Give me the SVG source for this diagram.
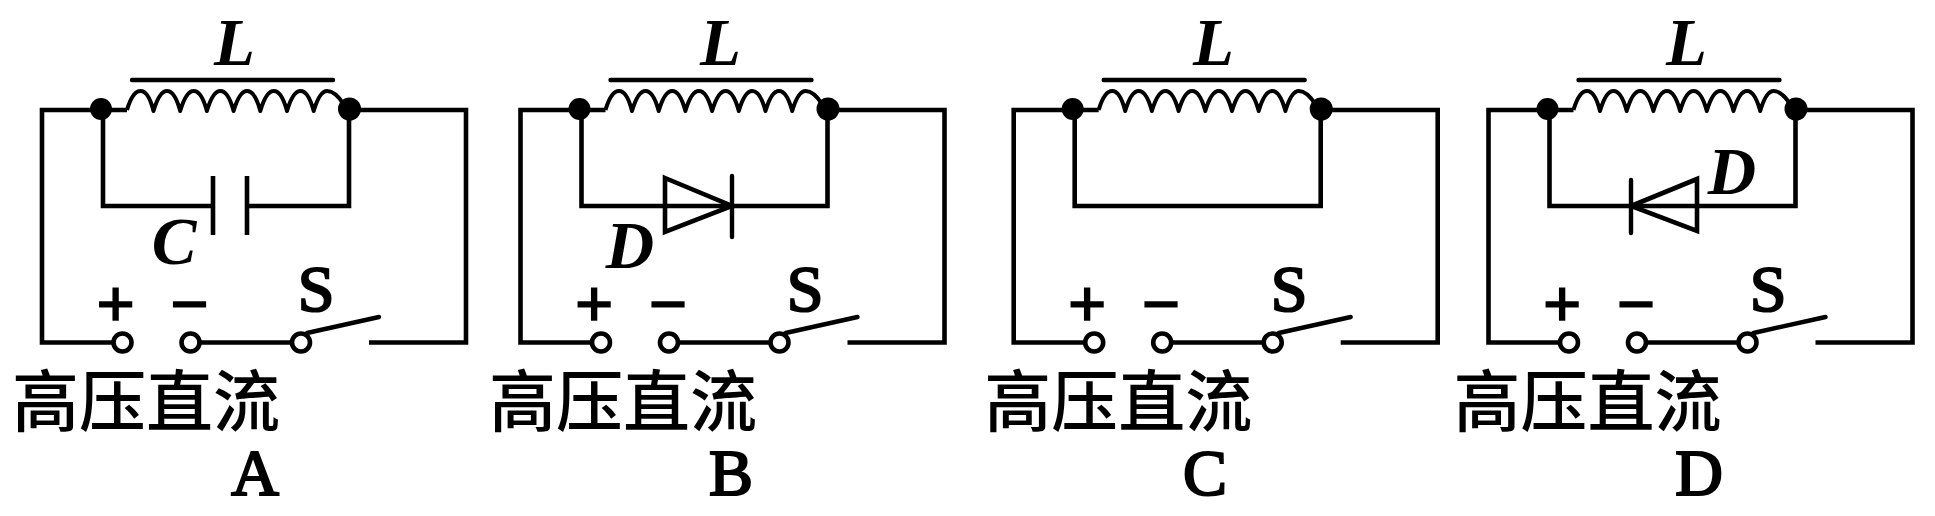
<svg xmlns="http://www.w3.org/2000/svg" width="1935" height="516" viewBox="0 0 1935 516">
<style>
.w{fill:none;stroke:#000;stroke-width:4.600;stroke-linejoin:miter}
.c{fill:none;stroke:#000;stroke-width:4;stroke-linejoin:round}
.b{fill:none;stroke:#000;stroke-width:4.400;stroke-linecap:round}
.t{fill:#fff;stroke:#000;stroke-width:4.600}
.d{fill:#000}
text{fill:#000;font-family:"Liberation Serif","Noto Sans CJK SC",serif;text-anchor:middle}
.v{font-size:67px;font-weight:bold;font-style:italic}
.r{font-size:66px;stroke:#000;stroke-width:2.200}
.s{font-size:68px;font-weight:bold;stroke:#000;stroke-width:1.600}
.z{font-family:"Noto Sans CJK SC",sans-serif;font-size:67px;font-weight:500;text-anchor:start}
</style>
<defs>
<path id="wire-outer" d="M127 110H42V342.500H122M350 110H466V342.500H369M190 342.500H301"/>
<path id="coil-shape" d="M127 110c3.500-12 8-19 13.500-19c6 0 10 8 13 20c3.500-12 8-20 13.500-20c6 0 10 8 13.200 20c3.500-12 8-20 13.500-20c6 0 10 8 13.200 20c3.500-12 8-20 13.500-20c6 0 10 8 13.200 20c3.500-12 8-20 13.500-20c6 0 10 8 13.200 20c3.500-12 8-20 13.500-20c6 0 10 8 13.200 20c3.500-12 8-20 13.500-20c6 0 10 8 13.200 20c3.500-12 8-20 13.500-20c6 0 12 6 17 14"/>
</defs>
<g id="connectors">
<use href="#wire-outer" class="w"/>
<path class="w" d="M103 110V206H213M247 206H349V110"/>
<use href="#wire-outer" class="w" transform="translate(478.500 0)"/>
<path class="w" d="M581.500 110V206H827.500V110"/>
<use href="#wire-outer" class="w" transform="translate(971.700 0)"/>
<path class="w" d="M1074.700 110V206H1320.700V110"/>
<use href="#wire-outer" class="w" transform="translate(1446.500 0)"/>
<path class="w" d="M1549.500 110V206H1795.500V110"/>
</g>
<g id="panel-a">
<g id="inductor-a"><use href="#coil-shape" class="c"/><path class="b" d="M132 80H333"/><text class="v" x="234.500" y="65">L</text></g>
<g id="junctions-a"><circle class="d" cx="101" cy="109" r="11"/><circle class="d" cx="349.500" cy="109" r="11.500"/></g>
<g id="capacitor-a"><path class="w" d="M213 176V235M247 176V235"/><text class="v" x="174" y="264">C</text></g>
<g id="source-a"><circle class="t" cx="122.500" cy="342.500" r="9"/><circle class="t" cx="190.500" cy="342.500" r="9"/><text class="s" x="115.500" y="327">+</text><text class="s" x="189.500" y="327">−</text><text class="z" x="12" y="426">高压直流</text></g>
<g id="switch-a"><path class="b" d="M307 333L379 317"/><circle class="t" cx="301" cy="342.500" r="9"/><text class="r" x="316" y="311">S</text></g>
<text id="label-a" class="r" x="255" y="495">A</text>
</g>
<g id="panel-b">
<g id="inductor-b" transform="translate(478.500 0)"><use href="#coil-shape" class="c"/><path class="b" d="M132 80H333"/></g><text class="v" x="720.500" y="65">L</text>
<g id="junctions-b" transform="translate(478.500 0)"><circle class="d" cx="101" cy="109" r="11"/><circle class="d" cx="349.500" cy="109" r="11.500"/></g>
<g id="diode-b"><path class="w" d="M665 178L732 206L665 232Z"/><path class="b" d="M732 176V237"/><text class="v" x="630" y="268">D</text></g>
<g id="source-b" transform="translate(478.500 0)"><circle class="t" cx="122.500" cy="342.500" r="9"/><circle class="t" cx="190.500" cy="342.500" r="9"/><text class="s" x="115.500" y="327">+</text><text class="s" x="189.500" y="327">−</text><text class="z" x="10.500" y="426">高压直流</text></g>
<g id="switch-b" transform="translate(478.500 0)"><path class="b" d="M307 333L379 317"/><circle class="t" cx="301" cy="342.500" r="9"/><text class="r" x="326.500" y="311">S</text></g>
<text id="label-b" class="r" x="731" y="495">B</text>
</g>
<g id="panel-c">
<g id="inductor-c" transform="translate(971.700 0)"><use href="#coil-shape" class="c"/><path class="b" d="M132 80H333"/></g><text class="v" x="1213.500" y="65">L</text>
<g id="junctions-c" transform="translate(971.700 0)"><circle class="d" cx="101" cy="109" r="11"/><circle class="d" cx="349.500" cy="109" r="11.500"/></g>
<g id="source-c" transform="translate(971.700 0)"><circle class="t" cx="122.500" cy="342.500" r="9"/><circle class="t" cx="190.500" cy="342.500" r="9"/><text class="s" x="115.500" y="327">+</text><text class="s" x="189.500" y="327">−</text><text class="z" x="12.500" y="426">高压直流</text></g>
<g id="switch-c" transform="translate(971.700 0)"><path class="b" d="M307 333L379 317"/><circle class="t" cx="301" cy="342.500" r="9"/><text class="r" x="317.300" y="311">S</text></g>
<text id="label-c" class="r" x="1205" y="495">C</text>
</g>
<g id="panel-d">
<g id="inductor-d" transform="translate(1446.500 0)"><use href="#coil-shape" class="c"/><path class="b" d="M132 80H333"/></g><text class="v" x="1686.500" y="65">L</text>
<g id="junctions-d" transform="translate(1446.500 0)"><circle class="d" cx="101" cy="109" r="11"/><circle class="d" cx="349.500" cy="109" r="11.500"/></g>
<g id="diode-d"><path class="w" d="M1697 179L1631 206L1697 231Z"/><path class="b" d="M1631 180V233"/><text class="v" x="1732" y="194">D</text></g>
<g id="source-d" transform="translate(1446.500 0)"><circle class="t" cx="122.500" cy="342.500" r="9"/><circle class="t" cx="190.500" cy="342.500" r="9"/><text class="s" x="115.500" y="327">+</text><text class="s" x="189.500" y="327">−</text><text class="z" x="7" y="426">高压直流</text></g>
<g id="switch-d" transform="translate(1446.500 0)"><path class="b" d="M307 333L379 317"/><circle class="t" cx="301" cy="342.500" r="9"/><text class="r" x="321.500" y="311">S</text></g>
<text id="label-d" class="r" x="1699" y="495">D</text>
</g>
</svg>
